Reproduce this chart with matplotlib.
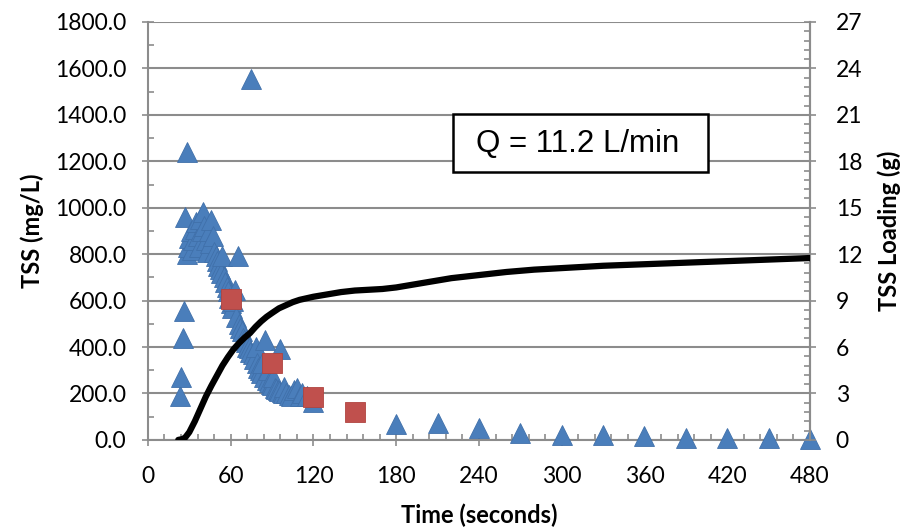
import numpy as np
import matplotlib
matplotlib.use("Agg")
import matplotlib.pyplot as plt
from matplotlib.patches import Rectangle
from matplotlib.ticker import MultipleLocator, FormatStrFormatter

# TSS concentration (triangles)
tss_time = [23, 24, 25.5, 26.5, 27, 28.5,
            28, 29, 30, 31, 32, 33, 34, 35, 36, 37, 38, 39, 40, 41, 42, 43, 44, 45, 46, 47, 48,
            49, 50, 51, 52, 53, 54, 55, 56, 57, 58, 59, 60, 61, 62, 63, 64, 65, 66, 67, 68, 69,
            70, 71, 72, 73, 74, 75, 76, 77, 78, 79, 80, 81, 82, 83, 84, 85, 86, 87, 88, 89, 90,
            91, 92, 93, 94, 95, 96, 97, 98, 99, 100, 102, 104, 106, 108, 110, 112, 115, 120,
            180, 210, 240, 270, 300, 330, 360, 390, 420, 450, 480]
tss_value = [188, 273, 441, 556, 962, 1242,
             800, 830, 870, 900, 820, 860, 910, 940, 880, 830, 950, 900, 980, 920, 860, 810, 900, 850, 945, 880, 810,
             790, 770, 750, 735, 720, 790, 700, 680, 660, 640, 610, 590, 570, 600, 647, 530, 790, 500, 480, 470, 440,
             430, 420, 400, 395, 380, 1555, 370, 350, 400, 330, 310, 300, 290, 330, 270, 430, 260, 300, 250, 240, 235,
             270, 225, 220, 215, 210, 390, 205, 200, 230, 200, 195, 190, 215, 224, 190, 200, 190, 165,
             68, 73, 50, 30, 19, 19, 18, 8, 8, 7, 4]

# composite samples (squares)
comp_time = [60, 90, 120, 150]
comp_value = [606, 333, 184, 122]

# cumulative TSS loading (black line, right axis)
load_time = [22, 25, 27, 30, 34, 38, 42, 46, 50, 54, 58, 62, 66, 70, 74, 78, 82, 86, 90, 95,
             100, 105, 110, 115, 120, 130, 140, 150, 160, 170, 180, 190, 200, 210, 220, 240,
             260, 280, 300, 330, 360, 390, 420, 450, 480]
load_value = [0, 0.05, 0.15, 0.5, 1.2, 2.0, 2.8, 3.5, 4.15, 4.8, 5.35, 5.85, 6.25, 6.6, 6.9,
              7.3, 7.65, 7.95, 8.2, 8.5, 8.7, 8.9, 9.05, 9.15, 9.25, 9.4, 9.55, 9.65, 9.7, 9.75,
              9.85, 10.0, 10.15, 10.3, 10.45, 10.65, 10.85, 11.0, 11.1, 11.25, 11.35, 11.45,
              11.55, 11.65, 11.75]

x_ticks = list(range(0, 481, 60))
left_ticks = list(range(0, 1801, 200))
right_ticks = list(range(0, 28, 3))

plt.rcParams['font.family'] = ['Lato', 'DejaVu Sans']
grey = '#8c8c8c'

fig = plt.figure(figsize=(9.02, 5.30), dpi=100)
ax = fig.add_axes([0.164, 0.170, 0.734, 0.7885])

ax.plot(tss_time, tss_value, linestyle='none', marker='^', ms=14.5,
        mfc='#4a7ebb', mec='#4070aa', mew=0.6, zorder=3, clip_on=False)
ax.plot(comp_time, comp_value, linestyle='none', marker='s', ms=14,
        mfc='#c0504d', mec='#b04440', mew=0.6, zorder=4, clip_on=False)

ax.set_xlim(0, 480)
ax.set_ylim(0, 1800)
ax.set_xticks(x_ticks)
ax.set_yticks(left_ticks)
ax.xaxis.set_minor_locator(MultipleLocator(12))
ax.yaxis.set_minor_locator(MultipleLocator(100))
ax.yaxis.set_major_formatter(FormatStrFormatter('%.1f'))
ax.grid(axis='y', color=grey, linewidth=1.5, zorder=0)
ax.set_axisbelow(True)

ax.spines['top'].set_visible(False)
for s in ['left', 'bottom', 'right']:
    ax.spines[s].set_color(grey)
    ax.spines[s].set_linewidth(1.5)

ax.tick_params(which='major', direction='inout', length=9, width=1.2, color=grey,
               labelsize=16.5, pad=11)
ax.tick_params(which='minor', direction='in', length=4, width=1.2, color=grey)
ax.tick_params(axis='x', which='major', pad=14)

ax.set_xlabel('Time (seconds)', fontsize=17, fontweight='bold', labelpad=12)
ax.set_ylabel('TSS (mg/L)', fontsize=17, fontweight='bold', labelpad=8)

ax2 = ax.twinx()
ax2.plot(load_time, load_value, color='black', linewidth=4.5, solid_capstyle='round', zorder=5)
ax2.set_ylim(0, 27)
ax2.set_yticks(right_ticks)
ax2.yaxis.set_minor_locator(MultipleLocator(0.6))
for s in ['top', 'left', 'bottom']:
    ax2.spines[s].set_visible(False)
ax2.spines['right'].set_color(grey)
ax2.spines['right'].set_linewidth(1.5)
ax2.tick_params(which='major', direction='inout', length=9, width=1.2, color=grey,
                labelsize=16.5, pad=14)
ax2.tick_params(which='minor', direction='in', length=4, width=1.2, color=grey)
ax2.set_ylabel('TSS Loading (g)', fontsize=17, fontweight='bold', labelpad=11)

# flow-rate note in a box
ax2.add_patch(Rectangle((0.4607, 0.641), 0.385, 0.139, transform=ax.transAxes,
                        facecolor='white', edgecolor='black', linewidth=1.8, zorder=6))
ax2.text(0.6495, 0.707, 'Q = 11.2 L/min', transform=ax.transAxes, fontsize=22.5,
         family='Liberation Sans', ha='center', va='center', zorder=7)

fig.savefig('out.png', dpi=100)
